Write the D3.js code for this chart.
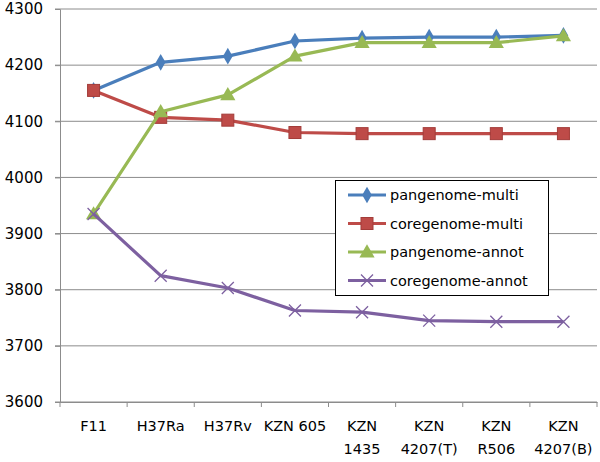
<!DOCTYPE html>
<html>
<head>
<meta charset="utf-8">
<script src="https://d3js.org/d3.v7.min.js"></script>
<style>
  body { margin: 0; background: #fff; }
  text { font-family: "DejaVu Sans", Verdana, sans-serif; }
</style>
</head>
<body>
<svg id="chart" width="600" height="462"></svg>
<script>
// strains along the x axis (line breaks marked with \n)
let strains = ["F11", "H37Ra", "H37Rv", "KZN 605", "KZN\n1435", "KZN\n4207(T)", "KZN\nR506", "KZN\n4207(B)"];
let yTicks = [3600, 3700, 3800, 3900, 4000, 4100, 4200, 4300];

let seriesNames = ["pangenome-multi", "coregenome-multi", "pangenome-annot", "coregenome-annot"];
let panMulti = [4155, 4205, 4216, 4243, 4248, 4250, 4250, 4253];
let coreMulti = [4155, 4107, 4102, 4080, 4078, 4078, 4078, 4078];
let panAnnot = [3935, 4117, 4147, 4216, 4240, 4240, 4240, 4252];
let coreAnnot = [3935, 3825, 3803, 3763, 3760, 3745, 3743, 3743];

let colors = ["#4a7ebb", "#be4b48", "#98b954", "#7d60a0"];
let markers = ["diamond", "square", "triangle", "cross"];

let svg = d3.select("#chart");
let xScale = d3.scaleBand().domain(strains).range([60, 597]);
let yScale = d3.scaleLinear().domain([3600, 4300]).range([402, 9]);

// gridlines
svg.append("g")
  .selectAll("line")
  .data(yTicks)
  .join("line")
  .attr("x1", 55)
  .attr("x2", 597)
  .attr("y1", d => yScale(d))
  .attr("y2", d => yScale(d))
  .attr("stroke", "#8c8c8c")
  .attr("stroke-width", 1);

// y axis
let yAxis = svg.append("g")
  .attr("transform", "translate(60,0)")
  .call(d3.axisLeft(yScale).tickValues(yTicks).tickFormat(d3.format("d")).tickSize(5).tickPadding(12));
yAxis.attr("font-size", null).attr("font-family", null);
yAxis.select(".domain").attr("stroke", "#8c8c8c");
yAxis.selectAll(".tick line").attr("stroke", "#8c8c8c");
yAxis.selectAll("text").attr("font-size", 15).attr("fill", "#000");

// x axis
let xAxis = svg.append("g")
  .attr("transform", "translate(0,402)")
  .call(d3.axisBottom(xScale).tickSize(0).tickFormat(""));
xAxis.select(".domain").attr("stroke", "#8c8c8c");
xAxis.selectAll(".tick").remove();

// tick marks between categories
let bounds = strains.map(s => xScale(s)).concat([xScale.range()[1]]);
svg.append("g")
  .selectAll("line")
  .data(bounds)
  .join("line")
  .attr("x1", d => d)
  .attr("x2", d => d)
  .attr("y1", 402)
  .attr("y2", 407)
  .attr("stroke", "#8c8c8c");

// category labels
let labels = svg.append("g")
  .selectAll("text")
  .data(strains)
  .join("text")
  .attr("text-anchor", "middle")
  .attr("font-size", 14.5)
  .attr("fill", "#000");
labels.each(function(d) {
  let parts = d.split("\n");
  let cx = xScale(d) + xScale.bandwidth() / 2;
  d3.select(this).selectAll("tspan")
    .data(parts)
    .join("tspan")
    .attr("x", cx)
    .attr("y", (p, i) => 431 + i * 23)
    .text(p => p);
});

let allSeries = [panMulti, coreMulti, panAnnot, coreAnnot];
let lineGen = d3.line()
  .x((d, i) => xScale(strains[i]) + xScale.bandwidth() / 2)
  .y(d => yScale(d));

function drawMarker(g, type, color, x, y) {
  if (type == "diamond") {
    g.append("path").attr("d", d3.symbol(d3.symbolDiamond, 80)())
      .attr("transform", `translate(${x},${y})`).attr("fill", color);
  } else if (type == "square") {
    g.append("rect").attr("x", x - 6).attr("y", y - 6).attr("width", 12).attr("height", 12)
      .attr("fill", color).attr("stroke", "#a33c39").attr("stroke-width", 1);
  } else if (type == "triangle") {
    g.append("path").attr("d", d3.symbol(d3.symbolTriangle, 100)())
      .attr("transform", `translate(${x},${y + 1})`).attr("fill", color);
  } else {
    g.append("path").attr("d", `M${x - 6},${y - 6}L${x + 6},${y + 6}M${x - 6},${y + 6}L${x + 6},${y - 6}`)
      .attr("stroke", color).attr("stroke-width", 1.3).attr("fill", "none");
  }
}

// series lines and markers
allSeries.forEach((vals, k) => {
  let g = svg.append("g");
  g.append("path")
    .datum(vals)
    .attr("fill", "none")
    .attr("stroke", colors[k])
    .attr("stroke-width", 3.2)
    .attr("stroke-linejoin", "round")
    .attr("d", lineGen);
  vals.forEach((v, i) => {
    drawMarker(g, markers[k], colors[k], xScale(strains[i]) + xScale.bandwidth() / 2, yScale(v));
  });
});

// legend
let legend = svg.append("g");
legend.append("rect")
  .attr("x", 335.5).attr("y", 180.5).attr("width", 213).attr("height", 115)
  .attr("fill", "#fff").attr("stroke", "#000").attr("stroke-width", 1);
seriesNames.forEach((name, k) => {
  let ly = 195 + k * 28.5;
  legend.append("line")
    .attr("x1", 348).attr("x2", 386).attr("y1", ly).attr("y2", ly)
    .attr("stroke", colors[k]).attr("stroke-width", 3.2);
  drawMarker(legend, markers[k], colors[k], 367, ly);
  legend.append("text")
    .attr("x", 390).attr("y", ly + 5)
    .attr("font-size", 14.5)
    .attr("fill", "#000")
    .text(name);
});
</script>
</body>
</html>
